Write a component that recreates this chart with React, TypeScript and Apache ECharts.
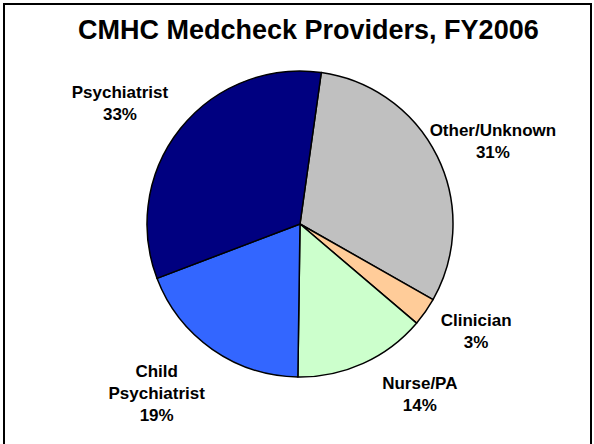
import React, { useEffect, useRef } from "react";
import * as echarts from "echarts";

const titleText = "CMHC Medcheck Providers, FY2006";
const categories = ["Other/Unknown", "Clinician", "Nurse/PA", "Child Psychiatrist", "Psychiatrist"];
const percents = [31, 3, 14, 19, 33];
const colors = ["#C0C0C0", "#FFCC99", "#CCFFCC", "#3366FF", "#000080"];

const FONT = "'Liberation Sans', Arial, sans-serif";

// small per-label nudges to mimic the spreadsheet's label placement
const labelNudge: [number, number][] = [
  [0, 12],
  [0, -16],
  [31, -25],
  [-20, -7],
  [-12, 14],
];

export default function App() {
  const ref = useRef<HTMLDivElement>(null);
  useEffect(() => {
    if (!ref.current) return;
    const chart = echarts.init(ref.current, null, { renderer: "svg" });
    const data = categories.map((name, i) => ({
      name,
      value: percents[i],
      itemStyle: { color: colors[i] },
    }));
    chart.setOption({
      animation: false,
      backgroundColor: "#ffffff",
      title: {
        text: titleText,
        left: 78,
        top: 16,
        padding: 0,
        textStyle: { fontFamily: FONT, fontSize: 27, fontWeight: "bold", color: "#000" },
      },
      graphic: [
        {
          type: "rect",
          shape: { x: 4, y: 4, width: 587, height: 470 },
          style: { fill: "none", stroke: "#000", lineWidth: 2 },
          silent: true,
          z: 100,
        },
      ],
      series: [
        {
          type: "pie",
          center: [300, 224],
          radius: [0, 153],
          startAngle: 82,
          clockwise: true,
          data,
          label: { show: false },
          labelLine: { show: false },
          itemStyle: { borderColor: "#000", borderWidth: 1.5 },
          emphasis: { disabled: true },
          silent: true,
        },
        {
          type: "pie",
          center: [300, 224],
          radius: [180, 244],
          startAngle: 82,
          clockwise: true,
          data: data.map((d) => ({ ...d, itemStyle: { color: "transparent", borderWidth: 0 } })),
          label: {
            show: true,
            position: "inside",
            formatter: (p: any) => `${p.name.replace("Child ", "Child\n")}\n${p.value}%`,
            fontFamily: FONT,
            fontSize: 17,
            fontWeight: "bold",
            color: "#000",
            lineHeight: 22,
            align: "center",
          },
          labelLayout: (params: any) => {
            const n = labelNudge[params.dataIndex] || [0, 0];
            return { dx: n[0], dy: n[1] };
          },
          labelLine: { show: false },
          emphasis: { disabled: true },
          silent: true,
        },
      ],
    });
    return () => chart.dispose();
  }, []);
  return (
    <div
      ref={ref}
      style={{ position: "fixed", left: 0, top: 0, width: 594, height: 444 }}
    />
  );
}
